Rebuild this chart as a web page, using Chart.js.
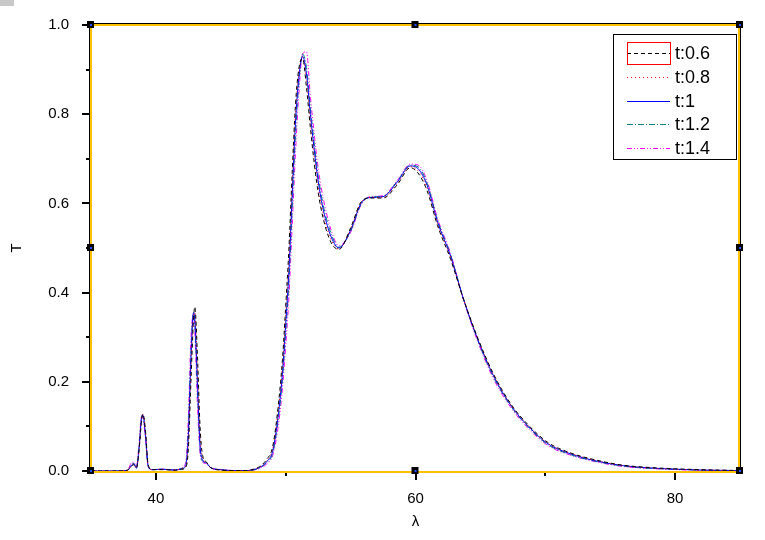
<!DOCTYPE html>
<html>
<head>
<meta charset="utf-8">
<script src="https://cdn.jsdelivr.net/npm/chart.js@4/dist/chart.umd.min.js"></script>
<style>
  body { margin: 0; background: #fff; }
  #wrap { position: relative; width: 765px; height: 540px; }
</style>
</head>
<body>
<div id="wrap"><canvas id="graphique" width="765" height="540"></canvas></div>
<script>
// longueurs d'onde (axe x)
const lambda = [35, 37, 37.8, 38.1, 38.3, 38.5, 38.7, 38.9, 39.0, 39.2, 39.4, 39.7, 40.5, 41.5, 42.0, 42.3, 42.5, 42.7, 42.9, 43.0,
  43.2, 43.4, 43.6, 43.9, 44.2, 45, 46, 47, 47.5, 48, 48.5, 49, 49.4, 49.75, 50, 50.25, 50.5, 50.75, 51, 51.3,
  51.6, 51.9, 52.2, 52.5, 52.9, 53.5, 54.1, 55.0, 55.8, 56.5, 57.5, 58.6, 59.6, 60.2, 60.9, 61.7, 62.7, 63.7, 64.8, 66,
  67.4, 68.7, 70.2, 72, 74, 76, 78, 80, 82, 85];

// transmission pour chaque t
const T_06 = [0, 0, 0.002, 0.01, 0.014, 0.008, 0.045, 0.115, 0.128, 0.09, 0.015, 0.003, 0.003, 0.002, 0.004, 0.008, 0.05, 0.2, 0.34, 0.368,
  0.26, 0.1, 0.035, 0.02, 0.008, 0.002, 0.001, 0.001, 0.004, 0.01, 0.025, 0.055, 0.14, 0.25, 0.37, 0.5, 0.67, 0.82, 0.9, 0.925,
  0.86, 0.77, 0.69, 0.625, 0.565, 0.512, 0.497, 0.545, 0.603, 0.612, 0.612, 0.642, 0.68, 0.668, 0.628, 0.55, 0.475, 0.385, 0.298, 0.218,
  0.148, 0.103, 0.064, 0.04, 0.024, 0.013, 0.008, 0.005, 0.003, 0.001];
const T_08 = [0, 0, 0.001, 0.011, 0.015, 0.007, 0.048, 0.118, 0.127, 0.085, 0.013, 0.003, 0.004, 0.002, 0.005, 0.01, 0.065, 0.23, 0.35, 0.355,
  0.23, 0.08, 0.03, 0.019, 0.008, 0.003, 0.001, 0.001, 0.003, 0.009, 0.022, 0.05, 0.13, 0.235, 0.35, 0.475, 0.645, 0.8, 0.89, 0.928,
  0.875, 0.785, 0.705, 0.638, 0.575, 0.518, 0.498, 0.542, 0.602, 0.613, 0.614, 0.645, 0.682, 0.673, 0.634, 0.554, 0.479, 0.385, 0.297, 0.216,
  0.146, 0.101, 0.062, 0.039, 0.023, 0.012, 0.007, 0.004, 0.002, 0.001];
const T_1 = [0, 0, 0.001, 0.012, 0.016, 0.006, 0.05, 0.12, 0.125, 0.08, 0.012, 0.003, 0.004, 0.002, 0.005, 0.012, 0.08, 0.25, 0.355, 0.34,
  0.2, 0.06, 0.025, 0.018, 0.008, 0.003, 0.001, 0.001, 0.003, 0.008, 0.02, 0.045, 0.12, 0.22, 0.33, 0.45, 0.62, 0.78, 0.88, 0.93,
  0.89, 0.8, 0.72, 0.65, 0.585, 0.525, 0.5, 0.54, 0.6, 0.613, 0.615, 0.648, 0.684, 0.678, 0.64, 0.558, 0.482, 0.385, 0.295, 0.214,
  0.145, 0.1, 0.061, 0.038, 0.022, 0.012, 0.007, 0.004, 0.002, 0.001];
const T_12 = [0, 0, 0.001, 0.014, 0.017, 0.007, 0.055, 0.12, 0.124, 0.078, 0.011, 0.003, 0.004, 0.002, 0.006, 0.015, 0.095, 0.27, 0.355, 0.33,
  0.18, 0.05, 0.022, 0.018, 0.008, 0.003, 0.001, 0.001, 0.002, 0.007, 0.018, 0.04, 0.11, 0.205, 0.31, 0.425, 0.59, 0.75, 0.865, 0.935,
  0.905, 0.815, 0.735, 0.662, 0.595, 0.532, 0.502, 0.537, 0.598, 0.614, 0.616, 0.65, 0.686, 0.682, 0.645, 0.562, 0.485, 0.386, 0.293, 0.211,
  0.143, 0.098, 0.059, 0.036, 0.021, 0.011, 0.006, 0.004, 0.002, 0.001];
const T_14 = [0, 0, 0.002, 0.018, 0.02, 0.01, 0.06, 0.125, 0.12, 0.07, 0.01, 0.003, 0.004, 0.002, 0.007, 0.02, 0.12, 0.3, 0.35, 0.31,
  0.15, 0.04, 0.02, 0.016, 0.007, 0.003, 0.001, 0.001, 0.002, 0.006, 0.015, 0.035, 0.095, 0.185, 0.28, 0.39, 0.55, 0.71, 0.84, 0.935,
  0.94, 0.84, 0.755, 0.68, 0.61, 0.54, 0.505, 0.535, 0.596, 0.615, 0.617, 0.652, 0.688, 0.686, 0.65, 0.566, 0.488, 0.384, 0.29, 0.207,
  0.14, 0.095, 0.057, 0.035, 0.02, 0.01, 0.006, 0.003, 0.002, 0.001];

const etiquettes = ["t:0.6", "t:0.8", "t:1", "t:1.2", "t:1.4"];
const series = [T_06, T_08, T_1, T_12, T_14];
const couleurs = ["#000000", "#ff0000", "#0000ff", "#008080", "#ff00ff"];
const pointilles = [[4, 3], [1, 3], [], [6, 2, 1, 2], [5, 2, 1, 2, 1, 2]];

const yTicks = [0, 0.2, 0.4, 0.6, 0.8, 1.0];
const xTicks = [40, 60, 80];

function points(ys) {
  return lambda.map((x, i) => ({ x: x, y: ys[i] }));
}

// cadre, graduations, poignées et légende façon Origin
const cadreOrigin = {
  id: "cadreOrigin",
  afterDraw(chart) {
    const ctx = chart.ctx;
    const a = chart.chartArea;
    const sx = chart.scales.x, sy = chart.scales.y;
    ctx.save();
    // petit rectangle gris en haut à gauche
    ctx.fillStyle = "#c8c8c8";
    ctx.fillRect(0, 0, 14, 6);

    // cadre noir + jaune
    ctx.lineWidth = 1;
    ctx.strokeStyle = "#000";
    ctx.strokeRect(a.left - 1.5, a.top - 1.5, a.right - a.left + 2, a.bottom - a.top + 2);
    ctx.strokeStyle = "#ffc000";
    ctx.lineWidth = 2;
    ctx.strokeRect(a.left, a.top, a.right - a.left - 1, a.bottom - a.top + 1);

    // graduations
    ctx.fillStyle = "#000";
    for (let v = 0; v <= 10; v++) {
      const y = Math.round(sy.getPixelForValue(v / 10));
      const len = v % 2 === 0 ? 7 : 3;
      ctx.fillRect(a.left - 2 - len, y - 1, len, 2);
    }
    for (let v = 40; v <= 80; v += 10) {
      const x = Math.round(sx.getPixelForValue(v));
      const len = v % 20 === 0 ? 7 : 3;
      ctx.fillRect(x - 1, a.bottom + 2, 2, len);
    }

    // poignées de sélection
    const midX = (a.left + a.right) / 2, midY = (a.top + a.bottom) / 2;
    const poignees = [[a.left, a.top], [midX, a.top], [a.right, a.top], [a.left, midY], [a.right, midY],
      [a.left, a.bottom], [midX, a.bottom], [a.right, a.bottom]];
    for (const [px, py] of poignees) {
      ctx.fillStyle = "#000";
      ctx.fillRect(px - 4, py - 4, 7, 7);
      ctx.fillStyle = "#2050ff";
      ctx.fillRect(px - 1, py - 1, 2, 2);
    }

    // légende
    const lx = 613, ly = 34, lw = 123, lh = 125;
    ctx.fillStyle = "#fff";
    ctx.fillRect(lx, ly, lw, lh);
    ctx.strokeStyle = "#000";
    ctx.lineWidth = 1;
    ctx.strokeRect(lx + 0.5, ly + 0.5, lw, lh);
    ctx.font = "18px 'Liberation Sans', Arial, sans-serif";
    ctx.textBaseline = "middle";
    chart.data.datasets.forEach((ds, i) => {
      const y = 53 + i * 23.8;
      ctx.beginPath();
      ctx.setLineDash(ds.borderDash || []);
      ctx.strokeStyle = ds.borderColor;
      ctx.lineWidth = 1;
      ctx.moveTo(627, Math.round(y) + 0.5);
      ctx.lineTo(670, Math.round(y) + 0.5);
      ctx.stroke();
      ctx.setLineDash([]);
      ctx.fillStyle = "#000";
      ctx.fillText(ds.label, 675, y + 1);
    });
    ctx.strokeStyle = "#ff0000";
    ctx.lineWidth = 1;
    ctx.strokeRect(627.5, 42.5, 43, 22);
    ctx.restore();
  }
};

const data = {
  datasets: series.map((s, i) => ({
    label: etiquettes[i],
    data: points(s),
    borderColor: couleurs[i],
    borderDash: pointilles[i],
    borderWidth: 1,
    pointRadius: 0,
    fill: false,
    cubicInterpolationMode: "monotone"
  }))
};

const config = {
  type: "line",
  data: data,
  options: {
    responsive: false,
    animation: false,
    devicePixelRatio: 1,
    layout: { padding: { left: 0, right: 25, top: 25, bottom: 0 } },
    plugins: { legend: { display: false }, tooltip: { enabled: false } },
    scales: {
      x: {
        type: "linear",
        min: 35,
        max: 85,
        afterBuildTicks: (scale) => { scale.ticks = xTicks.map(v => ({ value: v })); },
        afterFit: (scale) => { scale.height = 69; },
        grid: { display: false },
        border: { display: false },
        ticks: {
          color: "#000",
          padding: 11,
          maxRotation: 0,
          font: { family: "'Liberation Sans', Arial, sans-serif", size: 15 }
        },
        title: {
          display: true,
          text: "λ",
          color: "#000",
          padding: { top: 0, bottom: 9 },
          font: { family: "'Liberation Sans', Arial, sans-serif", size: 15 }
        }
      },
      y: {
        min: 0,
        max: 1,
        afterBuildTicks: (scale) => { scale.ticks = yTicks.map(v => ({ value: v })); },
        afterFit: (scale) => { scale.width = 91; },
        grid: { display: false },
        border: { display: false },
        ticks: {
          color: "#000",
          padding: 14,
          callback: (v) => Number(v).toFixed(1),
          font: { family: "'Liberation Sans', Arial, sans-serif", size: 15 }
        },
        title: {
          display: true,
          text: "T",
          color: "#000",
          padding: { top: 8, bottom: 0 },
          font: { family: "'Liberation Sans', Arial, sans-serif", size: 15 }
        }
      }
    }
  },
  plugins: [cadreOrigin]
};

new Chart(document.querySelector("#graphique"), config);
</script>
</body>
</html>
